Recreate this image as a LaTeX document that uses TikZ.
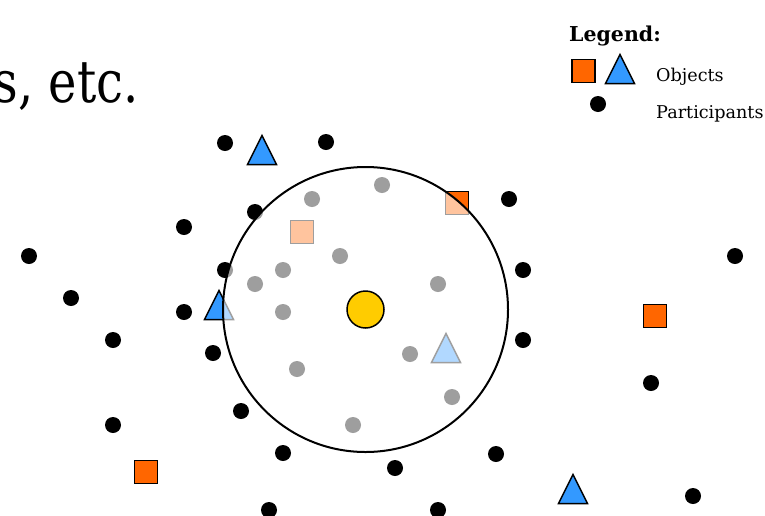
\documentclass[tikz,border=0pt]{standalone}
\usepackage{fontspec}
\setmainfont{DejaVu Serif}
\definecolor{objorange}{HTML}{FF6600}
\definecolor{objblue}{HTML}{3399FF}
\definecolor{centeryellow}{HTML}{FFCC00}
\tikzset{
  partdot/.style={fill=black},
  objsq/.style={fill=objorange, draw=black, line width=1.5pt},
  objtri/.style={fill=objblue, draw=black, line width=1.5pt, line join=miter},
  legtext/.style={anchor=base west, inner sep=0pt, font=\fontsize{17.6}{21}\selectfont},
}
\newcommand{\pdot}[1]{\fill[partdot] (#1) circle[radius=8pt];}
\newcommand{\psq}[1]{\draw[objsq, shift={(#1)}] (-11.5,-11.5) rectangle (11.5,11.5);}
\newcommand{\ptri}[1]{\draw[objtri, shift={(#1)}] (0,-14.5) -- (14.5,14.5) -- (-14.5,14.5) -- cycle;}
\begin{document}
\begin{tikzpicture}[x=1pt, y=-1pt]
\useasboundingbox (0,0) rectangle (765,515);
% title fragment
\node[anchor=base east, inner sep=0pt, font=\fontsize{48}{58}\selectfont] (title) at (139,102) {\scalebox{1}[1.22]{s, etc.}};
% legend
\node[anchor=base west, inner sep=0pt, font=\bfseries\fontsize{20.5}{24}\selectfont] (legend) at (569,41) {Legend:};
\psq{583.5,71}
\ptri{620,69}
\pdot{598,104}
\node[legtext] (objects) at (656,81) {Objects};
\node[legtext] (participants) at (656,118) {Participants};
% participants outside / on the rim
\foreach \p in {(225,143),(326,142),(184,227),(29,256),(71,298),(184,312),(113,340),(213,353),(113,425),(241,411),(283,453),(395,468),(496,454),(269,510),(438,510),(509,199),(523,270),(523,340),(735,256),(651,383),(693,496),(255,212),(225,270)}
  {\fill[partdot] \p circle[radius=8pt];}
% participants inside
\foreach \p in {(382,185),(312,199),(340,256),(283,270),(255,284),(438,284),(283,312),(410,354),(297,369),(452,397),(353,425)}
  {\fill[partdot] \p circle[radius=8pt];}
% objects
\psq{457,203}
\psq{302,232}
\psq{655,316}
\psq{146,472}
\ptri{262,150}
\ptri{219,305}
\ptri{446,348}
\ptri{573,489}
% fading of the area of interest
\fill[white, opacity=0.62] (365.5,309.5) circle[radius=142.5pt];
\draw[black, line width=2pt] (365.5,309.5) circle[radius=142.5pt];
\draw[fill=centeryellow, draw=black, line width=1.5pt] (365.5,309.5) circle[radius=18.5pt];
\end{tikzpicture}
\end{document}
